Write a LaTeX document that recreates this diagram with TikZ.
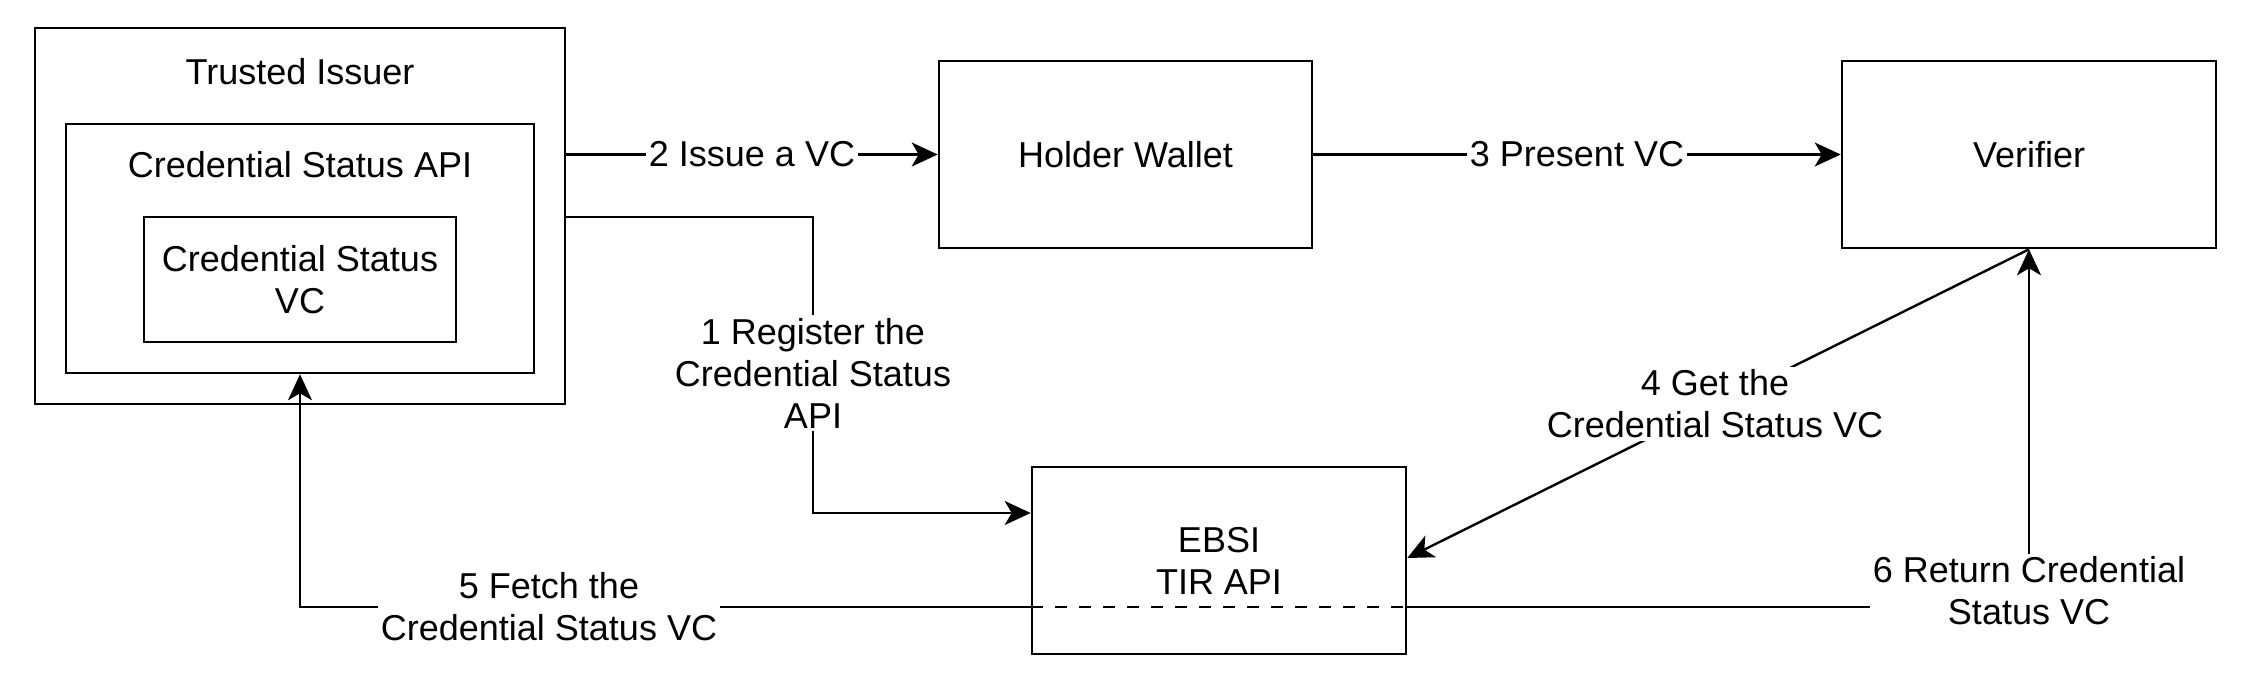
\documentclass[tikz,border=0pt]{standalone}
\usepackage{fontspec}
\setmainfont{Liberation Sans}
\usetikzlibrary{arrows.meta}
\tikzset{
  box/.style={draw=black, line width=2.6pt, fill=white, inner sep=0pt},
  txt/.style={font=\fontsize{36}{42}\selectfont, align=center, inner sep=2pt},
  lbl/.style={txt, fill=white, inner sep=3pt},
  arr/.style={line width=2.4pt, -{Stealth[length=26pt,width=24pt,inset=7pt]}},
  plain/.style={line width=2.4pt},
}
\begin{document}
\begin{tikzpicture}[x=1pt,y=-1pt]
\useasboundingbox (0,0) rectangle (2260,680);
% nodes
\node[box, minimum width=530pt, minimum height=376pt] (issuer) at (300,216) {};
\node[txt] (issuertitle) at (300,72) {Trusted Issuer};
\node[box, minimum width=468pt, minimum height=249pt] (api) at (300,248.5) {};
\node[txt] (apititle) at (300,165) {Credential Status API};
\node[box, txt, minimum width=312pt, minimum height=125pt] (vc) at (300,279.5) {Credential Status\\VC};
\node[box, txt, minimum width=373pt, minimum height=187pt] (wallet) at (1125.5,154.5) {Holder Wallet};
\node[box, txt, minimum width=374pt, minimum height=187pt] (verifier) at (2029,154.5) {Verifier};
\node[box, txt, minimum width=374pt, minimum height=187pt] (ebsi) at (1219,560.5) {EBSI\\TIR API};
\coordinate (ret) at (2029,607);
\coordinate (fetch) at (300,607);
\coordinate (reg) at (813,217);
\coordinate (regdown) at (813,513);
% connectors
\draw[arr] (issuer.east |- wallet.west) -- node[lbl] (l2) {2 Issue a VC} (wallet.west);
\draw[arr] (wallet.east) -- node[lbl] (l3) {3 Present VC} (verifier.west);
\draw[arr] (issuer.east |- reg) -- (reg) -- (regdown) -- (ebsi.west |- regdown);
\node[lbl] (l1) at (813,373) {1 Register the\\Credential Status\\API};
\draw[arr] (verifier.south) -- (ebsi.east |- 0,558);
\node[lbl] (l4) at (1715,404) {4 Get the\\Credential Status VC};
\draw[arr] (ebsi.west |- ret) -- (fetch) -- (api.south);
\draw[plain, dashed, dash pattern=on 12pt off 12pt] (ebsi.west |- ret) -- (ebsi.east |- ret);
\node[lbl] (l5) at (549,607) {5 Fetch the\\Credential Status VC};
\draw[arr] (ebsi.east |- ret) -- (ret) -- (verifier.south);
\node[lbl] (l6) at (2029,591) {6 Return Credential\\Status VC};
\end{tikzpicture}
\end{document}
